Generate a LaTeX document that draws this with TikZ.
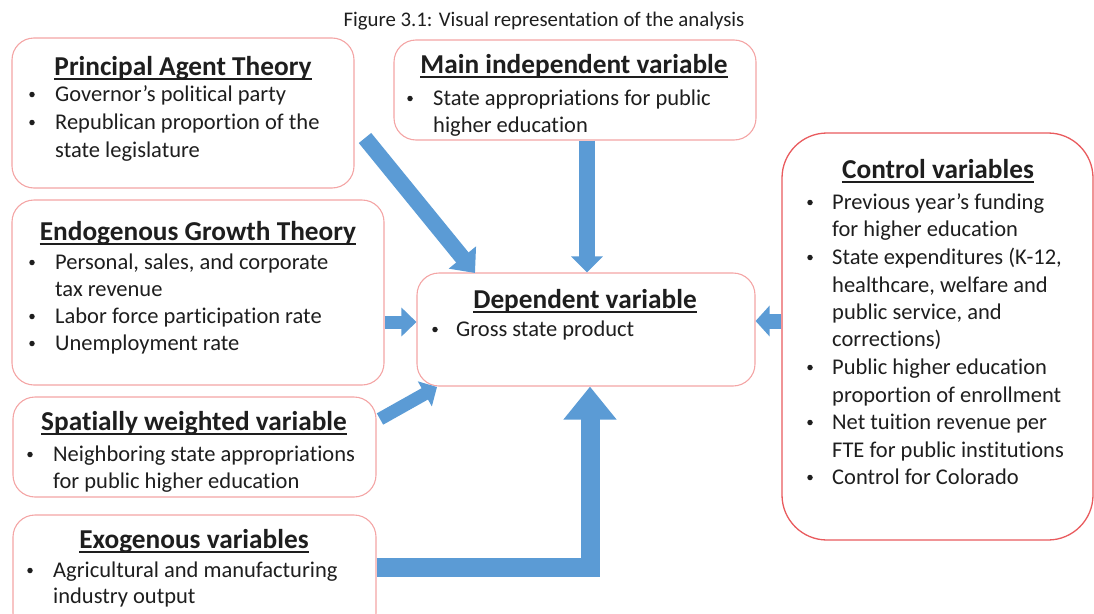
\documentclass[tikz,border=0pt]{standalone}
\usepackage{fontspec}
\setmainfont{Carlito}[Ligatures=NoCommon]
\usetikzlibrary{arrows.meta,calc}
\definecolor{boxred}{HTML}{F4A5A5}
\definecolor{ctlred}{HTML}{E95B5E}
\definecolor{arrblue}{HTML}{5B9BD5}
\definecolor{ink}{HTML}{1E1E1E}
\begin{document}
\begin{tikzpicture}[x=1pt,y=-1pt,
  box/.style={draw=boxred, line width=1.1pt, rounded corners=22pt, fill=white, inner sep=0pt},
  hd/.style={font=\fontsize{27.3}{30}\selectfont\bfseries, anchor=base, inner sep=0pt, text=ink},
  tx/.style={font=\fontsize{22.5}{27}\selectfont, anchor=base west, inner sep=0pt, text=ink},
  bul/.style={circle, fill=ink, inner sep=0pt, minimum size=5.5pt},
  ul/.style={draw=ink, line width=1.4pt},
  fat/.style={draw=arrblue, line join=miter}]
\useasboundingbox (0,0) rectangle (1094,613);

% caption
\node[font=\fontsize{20.8}{23}\selectfont, anchor=base, inner sep=0pt, text=ink] (cap) at (544,26) {Figure 3.1: Visual representation of the analysis};

% boxes
\node[box, minimum width=342pt, minimum height=150pt] (pat) at (183,113) {};
\node[box, minimum width=362pt, minimum height=100pt] (mainv) at (575,90) {};
\node[box, minimum width=372pt, minimum height=185pt] (egt) at (198,292.5) {};
\node[box, minimum width=338pt, minimum height=113pt] (dep) at (586,329.5) {};
\node[box, minimum width=363pt, minimum height=100pt] (spw) at (194.5,447) {};
\node[box, minimum width=363pt, minimum height=120pt] (exo) at (194.5,575) {};
\node[box, draw=ctlred, line width=1.3pt, rounded corners=45pt, minimum width=311pt, minimum height=407pt] (ctl) at (937.5,336.5) {};

% arrows
\coordinate (a1s) at (365,138);
\coordinate (a1e) at (475,273);
\draw[fat, line width=16pt, -{Triangle[width=34pt,length=20pt]}] (a1s) -- (a1e);
\draw[fat, line width=16pt, -{Triangle[width=31pt,length=16pt]}] (mainv.south -| 587,0) -- (dep.north -| 587,0);
\draw[fat, line width=13pt, -{Triangle[width=28pt,length=15pt]}] (egt.east |- 0,322) -- (dep.west |- 0,322);
\draw[fat, line width=15pt, -{Triangle[width=30pt,length=14pt]}] (ctl.west |- 0,321) -- (dep.east |- 0,321);
\coordinate (a5s) at (380,419);
\coordinate (a5e) at (437,387);
\draw[fat, line width=13pt, -{Triangle[width=28pt,length=14pt]}] (a5s) -- (a5e);
\draw[fat, line width=19pt, -{Triangle[width=51pt,length=33pt]}] (exo.east |- 0,567) -- (590,567) -- (dep.south -| 590,0);

% Principal Agent Theory
\node[hd] (h1) at (183,75) {Principal Agent Theory};
\draw[ul] ([yshift=-4pt]h1.base west) -- ([yshift=-4pt]h1.base east);
\node[bul] (p1b) at (32,94.5) {};
\node[tx] (p1) at (55,101) {Governor’s political party};
\node[bul] (p2b) at (32,122.5) {};
\node[tx] (p2) at (55,129) {Republican proportion of the};
\node[tx] (p3) at (55,157) {state legislature};

% Main independent variable
\node[hd] (h2) at (574,73) {Main independent variable};
\draw[ul] ([yshift=-4pt]h2.base west) -- ([yshift=-4pt]h2.base east);
\node[bul] (m1b) at (410,98.5) {};
\node[tx] (m1) at (433,105) {State appropriations for public};
\node[tx] (m2) at (433,132) {higher education};

% Endogenous Growth Theory
\node[hd] (h3) at (198,240) {Endogenous Growth Theory};
\draw[ul] ([yshift=-4pt]h3.base west) -- ([yshift=-4pt]h3.base east);
\node[bul] (e1b) at (32,262.5) {};
\node[tx] (e1) at (55,269) {Personal, sales, and corporate};
\node[tx] (e2) at (55,296) {tax revenue};
\node[bul] (e3b) at (32,316.5) {};
\node[tx] (e3) at (55,323) {Labor force participation rate};
\node[bul] (e4b) at (32,343.5) {};
\node[tx] (e4) at (55,350) {Unemployment rate};

% Dependent variable
\node[hd] (h4) at (585,308) {Dependent variable};
\draw[ul] ([yshift=-4pt]h4.base west) -- ([yshift=-4pt]h4.base east);
\node[bul] (d1b) at (435,329.5) {};
\node[tx] (d1) at (456,336) {Gross state product};

% Spatially weighted variable
\node[hd] (h5) at (194,430) {Spatially weighted variable};
\draw[ul] ([yshift=-4pt]h5.base west) -- ([yshift=-4pt]h5.base east);
\node[bul] (s1b) at (30,454.5) {};
\node[tx] (s1) at (53,461) {Neighboring state appropriations};
\node[tx] (s2) at (53,488) {for public higher education};

% Exogenous variables
\node[hd] (h6) at (194,548) {Exogenous variables};
\draw[ul] ([yshift=-4pt]h6.base west) -- ([yshift=-4pt]h6.base east);
\node[bul] (x1b) at (30,570.5) {};
\node[tx] (x1) at (53,577) {Agricultural and manufacturing};
\node[tx] (x2) at (53,603) {industry output};

% Control variables
\node[hd] (h7) at (938,178) {Control variables};
\draw[ul] ([yshift=-4pt]h7.base west) -- ([yshift=-4pt]h7.base east);
\node[bul] (c1b) at (810,202.5) {};
\node[tx] (c1) at (832,209) {Previous year’s funding};
\node[tx] (c2) at (832,236) {for higher education};
\node[bul] (c3b) at (810,257.5) {};
\node[tx] (c3) at (832,264) {State expenditures (K-12,};
\node[tx] (c4) at (832,292) {healthcare, welfare and};
\node[tx] (c5) at (832,319) {public service, and};
\node[tx] (c6) at (832,346) {corrections)};
\node[bul] (c7b) at (810,367.5) {};
\node[tx] (c7) at (832,374) {Public higher education};
\node[tx] (c8) at (832,402) {proportion of enrollment};
\node[bul] (c9b) at (810,422.5) {};
\node[tx] (c9) at (832,429) {Net tuition revenue per};
\node[tx] (c10) at (832,457) {FTE for public institutions};
\node[bul] (c11b) at (810,477.5) {};
\node[tx] (c11) at (832,484) {Control for Colorado};
\end{tikzpicture}
\end{document}
